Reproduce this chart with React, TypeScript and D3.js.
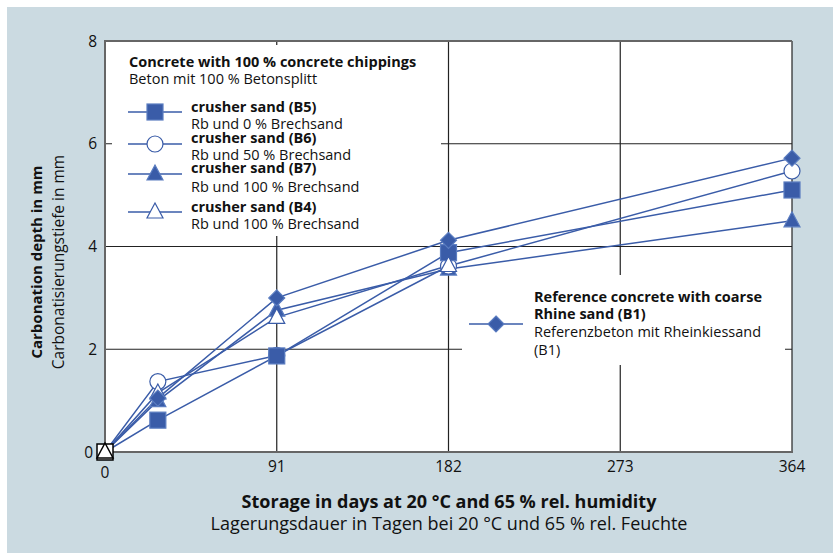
import React from "react";
import * as d3 from "d3";

const days = [0, 28, 91, 182, 364];
const seriesB5 = [0, 0.62, 1.87, 3.88, 5.1];
const seriesB6 = [0, 1.37, 1.88, 3.62, 5.47];
const seriesB7 = [0, 1.0, 2.76, 3.56, 4.5];
const seriesB4 = [0, 1.15, 2.62, 3.63];
const seriesB1 = [0, 1.05, 3.0, 4.12, 5.72];

const xTicks = [0, 91, 182, 273, 364];
const yTicks = [0, 2, 4, 6, 8];

const legendTitle = "Concrete with 100 % concrete chippings";
const legendSubtitle = "Beton mit 100 % Betonsplitt";
const legendNames = ["crusher sand (B5)", "crusher sand (B6)", "crusher sand (B7)", "crusher sand (B4)"];
const legendSubs = ["Rb und 0 % Brechsand", "Rb und 50 % Brechsand", "Rb und  100 % Brechsand", "Rb und 100 % Brechsand"];
const refLines = ["Reference concrete with coarse", "Rhine sand (B1)", "Referenzbeton mit Rheinkiessand", "(B1)"];

const xTitle = "Storage in days at 20 °C and 65 % rel. humidity";
const xSub = "Lagerungsdauer in Tagen bei 20 °C und 65 % rel. Feuchte";
const yTitle = "Carbonation depth in mm";
const ySub = "Carbonatisierungstiefe in mm";

const BLUE = "#3a5ca8";
const FONT = "'Open Sans', 'Noto Sans', sans-serif";

type Shape = "square" | "circle" | "triangle" | "triangleOpen" | "diamond";

function Marker({ shape, x, y, origin }: { shape: Shape; x: number; y: number; origin?: boolean }) {
  const filled = shape === "square" || shape === "triangle" || shape === "diamond";
  const fill = origin ? "#fff" : filled ? BLUE : "#fff";
  const stroke = origin ? "#000" : filled ? "#5a7cc0" : BLUE;
  const sw = origin ? 1.5 : 1.2;
  if (shape === "square") return <rect x={x - 8} y={y - 8} width={16} height={16} fill={fill} stroke={stroke} strokeWidth={sw} />;
  if (shape === "circle") return <circle cx={x} cy={y} r={8} fill={fill} stroke={stroke} strokeWidth={sw} />;
  if (shape === "diamond") return <path d={`M${x},${y - 8}L${x + 8},${y}L${x},${y + 8}L${x - 8},${y}Z`} fill={fill} stroke={stroke} strokeWidth={sw} />;
  return <path d={`M${x},${y - 9}L${x + 8},${y + 6}L${x - 8},${y + 6}Z`} fill={fill} stroke={stroke} strokeWidth={sw} />;
}

export default function App() {
  const W = 833, H = 553;
  const x = d3.scaleLinear().domain([0, 364]).range([105, 792]);
  const y = d3.scaleLinear().domain([0, 8]).range([452, 41]);
  const line = d3.line<number>().x((_, i) => x(days[i])).y((v) => y(v));

  const series: { vals: number[]; shape: Shape }[] = [
    { vals: seriesB7, shape: "triangle" },
    { vals: seriesB6, shape: "circle" },
    { vals: seriesB5, shape: "square" },
    { vals: seriesB4, shape: "triangleOpen" },
    { vals: seriesB1, shape: "diamond" },
  ];
  const originOrder: Shape[] = ["square", "triangleOpen"];
  const legendShapes: Shape[] = ["square", "circle", "triangle", "triangleOpen"];
  const legendMarkerY = [112, 144, 174, 212];
  const legendNameY = [112, 143, 173, 212];
  const legendSubY = [129, 160, 192, 229];
  const FS = 14.5;

  return (
    <svg width={W} height={H} style={{ position: "fixed", left: 0, top: 0 }} fontFamily={FONT}>
      <rect x={0} y={0} width={W} height={H} fill="#fff" />
      <rect x={7} y={7} width={W - 7} height={H - 7} fill="#cbdae1" />
      <rect x={x(0)} y={y(8)} width={x(364) - x(0)} height={y(0) - y(8)} fill="#fff" />
      {/* grid */}
      {yTicks.filter((t) => t > 0 && t < 8).map((t) => (
        <line key={"hy" + t} x1={x(0)} x2={x(364)} y1={y(t)} y2={y(t)} stroke="#222" strokeWidth={1.2} />
      ))}
      {xTicks.filter((t) => t > 0).map((t) => (
        <line key={"vx" + t} x1={x(t)} x2={x(t)} y1={y(8)} y2={y(0)} stroke="#222" strokeWidth={1.2} />
      ))}
      {/* legend covers */}
      <rect x={112} y={45} width={329} height={191} fill="#fff" />
      <rect x={462} y={275} width={323} height={90} fill="#fff" />
      {/* axes frame */}
      <line x1={x(0)} x2={x(364)} y1={y(8)} y2={y(8)} stroke="#666" strokeWidth={2} />
      <line x1={x(0)} x2={x(0)} y1={y(8) - 1} y2={y(0) + 1} stroke="#666" strokeWidth={2} />
      <line x1={x(0) - 1} x2={x(364) + 1} y1={y(0)} y2={y(0)} stroke="#666" strokeWidth={2} />
      {/* tick labels */}
      {yTicks.map((t) => (
        <text key={"yl" + t} x={t === 0 ? 93 : 97} y={y(t) + 5.5} textAnchor="end" fontSize={15.5} fill="#111">{t}</text>
      ))}
      {xTicks.map((t) => (
        <text key={"xl" + t} x={x(t)} y={t === 0 ? 478 : 472} textAnchor="middle" fontSize={15.5} fill="#111">{t}</text>
      ))}
      {/* series */}
      {series.map((s, si) => (
        <path key={"s" + si} d={line(s.vals) || ""} fill="none" stroke={BLUE} strokeWidth={1.5} />
      ))}
      {series.map((s, si) => (
        <g key={"m" + si}>
          {s.vals.map((v, i) => (i === 0 ? null : <Marker key={i} shape={s.shape} x={x(days[i])} y={y(v)} />))}
        </g>
      ))}
      {originOrder.map((sh) => {
        const s = series.find((q) => q.shape === sh)!;
        return <Marker key={"o" + sh} shape={sh} x={x(days[0])} y={y(s.vals[0])} origin />;
      })}
      {/* legend 1 */}
      <text x={129} y={67} fontSize={FS} fontWeight="bold" fill="#111">{legendTitle}</text>
      <text x={129} y={84} fontSize={FS} fill="#111">{legendSubtitle}</text>
      {legendShapes.map((sh, i) => (
        <g key={"lg" + i}>
          <line x1={128} x2={182} y1={legendMarkerY[i]} y2={legendMarkerY[i]} stroke={BLUE} strokeWidth={1.5} />
          <Marker shape={sh} x={155} y={legendMarkerY[i]} />
          <text x={191} y={legendNameY[i]} fontSize={FS} fontWeight="bold" fill="#111">{legendNames[i]}</text>
          <text x={191} y={legendSubY[i]} fontSize={FS} fill="#111">{legendSubs[i]}</text>
        </g>
      ))}
      {/* legend 2 */}
      <line x1={469} x2={523} y1={324} y2={324} stroke={BLUE} strokeWidth={1.5} />
      <Marker shape="diamond" x={496} y={324} />
      {refLines.map((t, i) => (
        <text key={"rl" + i} x={534} y={[302, 319, 337, 355][i]} fontSize={FS} fontWeight={i < 2 ? "bold" : "normal"} fill="#111">{t}</text>
      ))}
      {/* axis titles */}
      <text x={449} y={508} textAnchor="middle" fontSize={18} fontWeight="bold" fill="#111">{xTitle}</text>
      <text x={449} y={530} textAnchor="middle" fontSize={18} fill="#111">{xSub}</text>
      <text transform="translate(42,262) rotate(-90)" textAnchor="middle" fontSize={15} fontWeight="bold" fill="#111">{yTitle}</text>
      <text transform="translate(64,262) rotate(-90)" textAnchor="middle" fontSize={15.5} fill="#111">{ySub}</text>
    </svg>
  );
}
